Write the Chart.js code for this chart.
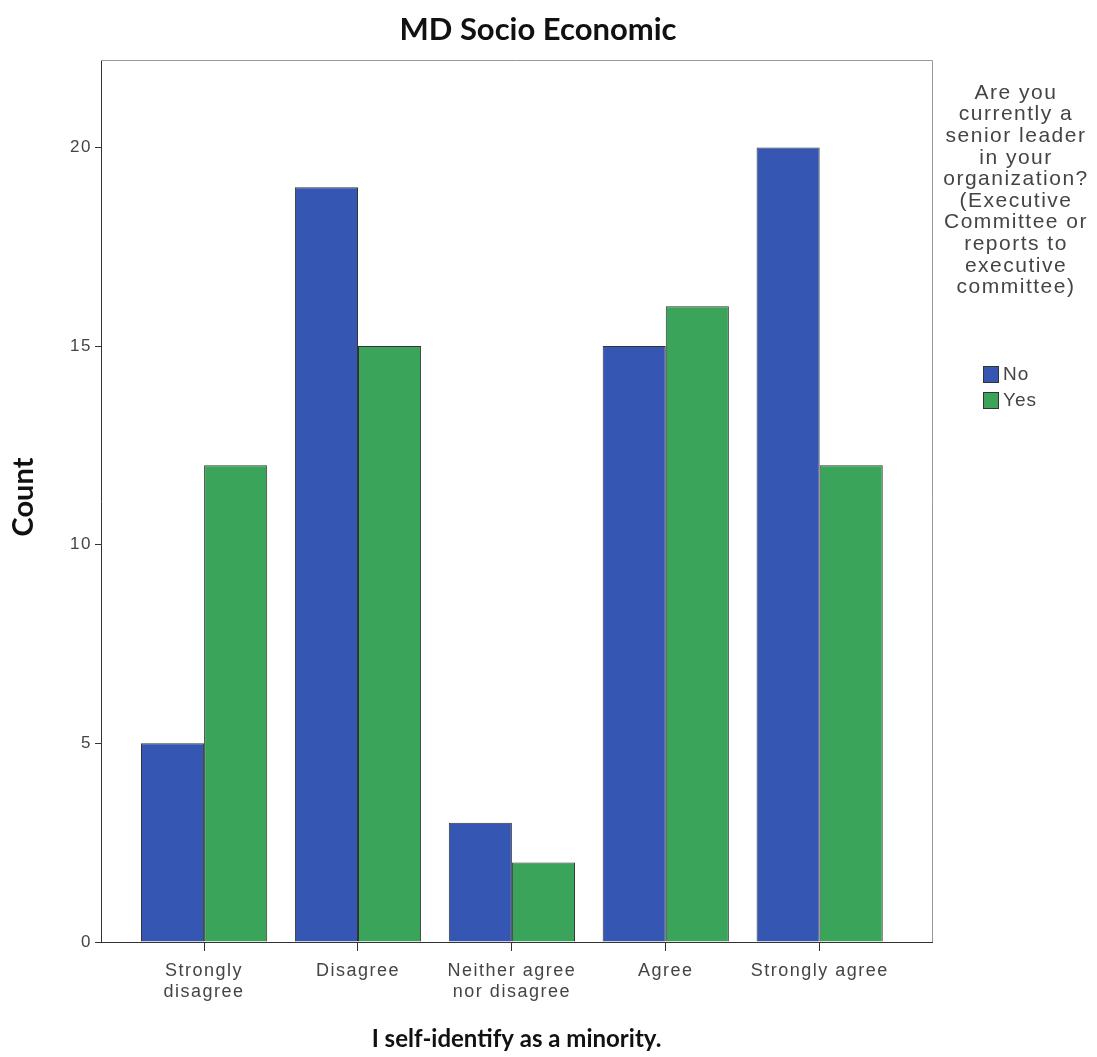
<!DOCTYPE html>
<html>
<head>
<meta charset="utf-8">
<script src="https://cdn.jsdelivr.net/npm/chart.js@4.4.1/dist/chart.umd.min.js"></script>
<style>
  html, body { margin: 0; padding: 0; background: #fff; }
  #wrap { width: 1097px; height: 1057px; }
</style>
</head>
<body>
<div id="wrap"><canvas id="chart" width="1097" height="1057"></canvas></div>
<script>
// chart data
const categories = [
    ['Strongly', 'disagree'],
    'Disagree',
    ['Neither agree', 'nor disagree'],
    'Agree',
    'Strongly agree'
];
const noCounts = [5, 19, 3, 15, 20];
const yesCounts = [12, 15, 2, 16, 12];
const yTicks = [0, 5, 10, 15, 20];
const chartTitle = 'MD Socio Economic';
const xTitle = 'I self-identify as a minority.';
const yTitle = 'Count';
const legendTitle = ['Are you', 'currently a', 'senior leader', 'in your', 'organization?',
    '(Executive', 'Committee or', 'reports to', 'executive', 'committee)'];

const BLUE = '#3556b2';
const GREEN = '#3aa55a';
const TEXT = '#444';
const BOLD = 'Lato';

const toPoints = arr => arr.map((v, i) => ({ x: i, y: v }));

// SPSS renders its small text spread out; widen tick labels a bit
const spacing = {
    id: 'spacing',
    beforeDraw(chart) { chart.ctx.letterSpacing = '1.5px'; },
    afterDraw(chart) { chart.ctx.letterSpacing = '0px'; }
};

// frame, titles and legend drawn by hand (SPSS style)
const spssDecor = {
    id: 'spssDecor',
    afterDraw(chart) {
        const { ctx, chartArea: a } = chart;
        ctx.save();
        ctx.letterSpacing = '0px';
        ctx.strokeStyle = '#999';
        ctx.lineWidth = 1;
        ctx.beginPath();
        ctx.moveTo(a.left, a.top + 0.5);
        ctx.lineTo(a.right + 0.5, a.top + 0.5);
        ctx.lineTo(a.right + 0.5, a.bottom);
        ctx.stroke();

        ctx.fillStyle = '#111';
        ctx.textAlign = 'center';
        ctx.textBaseline = 'middle';
        ctx.font = 'bold 31px ' + BOLD;
        ctx.fillText(chartTitle, 538, 30);
        ctx.font = 'bold 24px ' + BOLD;
        ctx.fillText(xTitle, (a.left + a.right) / 2, 1039);
        ctx.save();
        ctx.translate(24, (a.top + a.bottom) / 2 - 4);
        ctx.rotate(-Math.PI / 2);
        ctx.font = 'bold 29px ' + BOLD;
        ctx.fillText(yTitle, 0, 0);
        ctx.restore();

        // legend
        const cx = 1016;
        ctx.fillStyle = TEXT;
        ctx.letterSpacing = '1.5px';
        ctx.font = '21px "Liberation Sans"';
        legendTitle.forEach((line, i) => ctx.fillText(line, cx, 93 + i * 21.6));

        ctx.textAlign = 'left';
        ctx.letterSpacing = '1px';
        ctx.font = '19px "Liberation Sans"';
        chart.data.datasets.forEach((ds, i) => {
            const y = 366 + i * 26;
            ctx.fillStyle = ds.backgroundColor;
            ctx.fillRect(983, y, 16, 17);
            ctx.strokeStyle = '#333';
            ctx.strokeRect(983.5, y + 0.5, 15, 16);
            ctx.fillStyle = TEXT;
            ctx.fillText(ds.label, 1003, y + 9);
        });
        ctx.restore();
    }
};

new Chart(document.getElementById('chart'), {
    type: 'bar',
    data: {
        datasets: [{
            label: 'No',
            data: toPoints(noCounts),
            backgroundColor: BLUE,
            borderColor: '#333',
            borderWidth: 1,
            categoryPercentage: 0.82,
            barPercentage: 1
        }, {
            label: 'Yes',
            data: toPoints(yesCounts),
            backgroundColor: GREEN,
            borderColor: '#333',
            borderWidth: 1,
            categoryPercentage: 0.82,
            barPercentage: 1
        }]
    },
    options: {
        responsive: false,
        animation: false,
        layout: { padding: { top: 60, right: 165, left: 0, bottom: 0 } },
        plugins: {
            legend: { display: false },
            tooltip: { enabled: false }
        },
        scales: {
            x: {
                type: 'linear',
                offset: false,
                min: -0.67,
                max: 4.73,
                afterBuildTicks: s => { s.ticks = categories.map((_, i) => ({ value: i })); },
                afterFit: s => { s.height = 115; },
                ticks: {
                    callback: v => categories[v],
                    color: TEXT,
                    font: { family: '"Liberation Sans"', size: 18, lineHeight: 1.2 },
                    padding: 9,
                    maxRotation: 0,
                    autoSkip: false
                },
                grid: { offset: false, drawOnChartArea: false, drawTicks: true, tickLength: 9, color: '#333' },
                border: { color: '#333', width: 1 }
            },
            y: {
                min: 0,
                max: 22.2,
                afterBuildTicks: s => { s.ticks = yTicks.map(v => ({ value: v })); },
                afterFit: s => { s.width = 101; },
                ticks: {
                    color: TEXT,
                    font: { family: '"Liberation Sans"', size: 17 },
                    padding: 3
                },
                grid: { drawOnChartArea: false, drawTicks: true, tickLength: 6, color: '#333' },
                border: { color: '#333', width: 1 }
            }
        }
    },
    plugins: [spacing, spssDecor]
});
</script>
</body>
</html>
